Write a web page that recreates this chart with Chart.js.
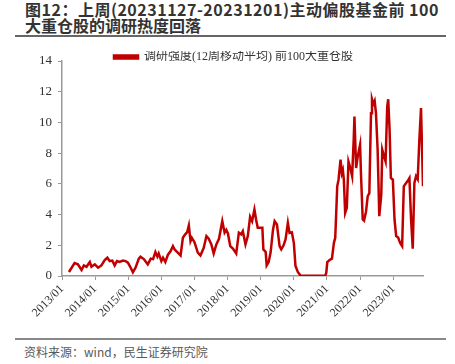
<!DOCTYPE html>
<html>
<head>
<meta charset="utf-8">
<script src="https://cdn.jsdelivr.net/npm/chart.js@4.4.0/dist/chart.umd.min.js"></script>
<style>
  body { margin: 0; width: 455px; height: 364px; background: #fff; position: relative; overflow: hidden; }
  .title { position: absolute; left: 25px; top: 2px; width: 428px; font-family: "Noto Sans CJK SC", sans-serif; font-weight: bold; font-size: 16px; line-height: 15.5px; color: #333; white-space: nowrap; }
  .title .l1 { letter-spacing: 0.5px; }
  .rule-top { position: absolute; left: 15px; top: 35px; width: 431px; height: 2px; background: #666; }
  .chart-box { position: absolute; left: 0; top: 39px; width: 455px; height: 297px; }
  .rule-bottom { position: absolute; left: 15px; top: 338px; width: 431px; height: 1.5px; background: #888; }
  .source { position: absolute; left: 24px; top: 343px; font-family: "Noto Sans CJK SC", sans-serif; font-size: 12px; color: #595959; }
</style>
</head>
<body>
<div class="title"><span class="l1">图12：上周(20231127-20231201)主动偏股基金前 100</span><br>大重仓股的调研热度回落</div>
<div class="rule-top"></div>
<div class="chart-box"><canvas id="chart"></canvas></div>
<div class="rule-bottom"></div>
<div class="source">资料来源：wind，民生证券研究院</div>
<script>
// 日期用小数年份表示（2013.21 ≈ 2013年3月）
const dates = [
  2013.21, 2013.38, 2013.48, 2013.59, 2013.66, 2013.74, 2013.84, 2013.89, 2013.99,
  2014.09, 2014.19, 2014.29, 2014.37, 2014.44, 2014.52, 2014.59, 2014.66, 2014.74, 2014.84, 2014.92, 2014.99,
  2015.06, 2015.14, 2015.22, 2015.32, 2015.37, 2015.47, 2015.59, 2015.68, 2015.75, 2015.82, 2015.88, 2015.92,
  2016.00, 2016.05, 2016.12, 2016.20, 2016.28, 2016.35, 2016.40, 2016.48, 2016.58, 2016.65, 2016.72, 2016.78,
  2016.83, 2016.88, 2016.92, 2017.00, 2017.10, 2017.18, 2017.28, 2017.36, 2017.43, 2017.51, 2017.58, 2017.66,
  2017.74, 2017.84, 2017.91, 2017.96, 2018.01, 2018.08, 2018.16, 2018.26, 2018.34, 2018.41, 2018.46, 2018.54,
  2018.61, 2018.68, 2018.74, 2018.81, 2018.86, 2018.91, 2019.05, 2019.08, 2019.15, 2019.18, 2019.24, 2019.30,
  2019.37, 2019.42, 2019.49, 2019.57, 2019.62, 2019.69, 2019.75, 2019.82, 2019.87, 2019.94, 2020.00, 2020.05,
  2020.12, 2020.20, 2020.53, 2020.95, 2020.98, 2021.01, 2021.08, 2021.15, 2021.21, 2021.25, 2021.28, 2021.31,
  2021.35, 2021.41, 2021.45, 2021.48, 2021.51, 2021.55, 2021.60, 2021.65, 2021.71, 2021.76, 2021.81, 2021.83,
  2021.88, 2021.93, 2022.00, 2022.03, 2022.08, 2022.12, 2022.18, 2022.23, 2022.28, 2022.33, 2022.36, 2022.40,
  2022.44, 2022.48, 2022.53, 2022.58, 2022.64, 2022.67, 2022.71, 2022.77, 2022.82, 2022.85, 2022.89, 2022.93,
  2022.99, 2023.04, 2023.09, 2023.15, 2023.21, 2023.27, 2023.32, 2023.39, 2023.44, 2023.49, 2023.54, 2023.59,
  2023.64, 2023.69, 2023.74, 2023.79, 2023.84, 2023.90
];

const heat = [
  0.26, 0.84, 0.76, 0.39, 0.69, 0.60, 0.91, 0.60, 0.76,
  0.54, 0.69, 1.04, 1.19, 0.97, 1.00, 0.69, 0.97, 0.91, 1.00, 0.97, 0.87,
  0.60, 0.24, 0.54, 1.13, 1.26, 1.10, 0.76, 1.13, 1.10, 1.56, 1.26, 1.47,
  0.97, 1.19, 0.91, 1.39, 1.62, 1.95, 1.73, 1.56, 1.34, 2.49, 2.71, 2.86,
  3.29, 2.27, 2.49, 2.20, 1.52, 1.34, 1.84, 2.60, 2.43, 2.06, 1.47, 2.06,
  2.42, 3.57, 2.82, 3.00, 2.77, 1.95, 1.79, 1.47, 2.82, 2.71, 2.92, 2.06,
  2.60, 3.85, 3.57, 4.33, 3.68, 3.14, 3.14, 1.73, 1.56, 0.69, 0.91, 1.56,
  3.00, 3.57, 3.35, 1.95, 1.73, 2.00, 2.38, 3.46, 2.81, 2.85, 2.16, 0.65,
  0.26, 0.03, 0.02, 0.03, 0.22, 0.91, 1.04, 1.13, 2.16, 2.49, 4.11, 5.84,
  6.27, 7.57, 6.70, 6.90, 6.27, 4.11, 4.44, 7.46, 7.00, 6.50, 9.00, 10.38,
  7.03, 7.79, 8.55, 6.50, 3.68, 3.60, 4.20, 5.19, 5.40, 10.60, 11.51, 11.20,
  11.40, 10.60, 8.22, 3.90, 5.30, 8.22, 7.90, 7.46, 11.03, 11.51, 9.60, 6.38,
  6.27, 3.68, 2.60, 2.50, 2.16, 1.95, 5.84, 6.06, 6.20, 6.38, 3.68, 1.78,
  6.06, 6.50, 6.30, 8.87, 10.93, 5.84
];

const yearTicks = [2013, 2014, 2015, 2016, 2017, 2018, 2019, 2020, 2021, 2022, 2023];

const serif = '"Liberation Serif", "Times New Roman", "Noto Sans CJK SC", serif';
const axisColor = "#999";

// 图例压到绘图区上沿附近，和原图一样
const legendShift = {
  id: "legendShift",
  afterLayout(chart) {
    const lg = chart.legend;
    lg.top += 12;
    lg.bottom += 12;
    lg.left += 22;
    lg.right += 22;
  },
};

new Chart(document.getElementById("chart"), {
  type: "line",
  data: {
    datasets: [
      {
        label: "调研强度(12周移动平均) 前100大重仓股",
        data: dates.map((d, i) => ({ x: d, y: heat[i] })),
        borderColor: "#C00000",
        backgroundColor: "#C00000",
        borderWidth: 2.5,
        pointRadius: 0,
        tension: 0,
        fill: false,
      },
    ],
  },
  plugins: [legendShift],
  options: {
    responsive: true,
    maintainAspectRatio: false,
    animation: false,
    layout: { padding: { top: 0, right: 32, bottom: 10, left: 0 } },
    plugins: {
      legend: {
        display: true,
        position: "top",
        labels: {
          boxWidth: 24,
          boxHeight: 3,
          padding: 0,
          color: "#333",
          font: { family: serif, size: 12 },
        },
      },
      tooltip: { enabled: false },
    },
    scales: {
      x: {
        type: "linear",
        min: 2013,
        max: 2023.9,
        afterBuildTicks: (scale) => {
          scale.ticks = yearTicks.map((v) => ({ value: v }));
        },
        ticks: {
          includeBounds: false,
          maxRotation: 45,
          minRotation: 45,
          color: "#333",
          font: { family: serif, size: 12 },
          padding: 2,
          callback: (v) => v + "/01",
        },
        grid: { display: true, drawOnChartArea: false, tickLength: 4, color: axisColor },
        border: { color: axisColor, width: 1.5 },
        afterFit: (scale) => {
          scale.height = 50;
        },
      },
      y: {
        min: 0,
        max: 14,
        ticks: {
          stepSize: 2,
          color: "#333",
          font: { family: serif, size: 13 },
          padding: 6,
        },
        grid: { display: true, drawOnChartArea: false, tickLength: 4, color: axisColor },
        border: { color: axisColor, width: 1.5 },
        afterFit: (scale) => {
          scale.width = 62;
        },
      },
    },
  },
});
</script>
</body>
</html>
